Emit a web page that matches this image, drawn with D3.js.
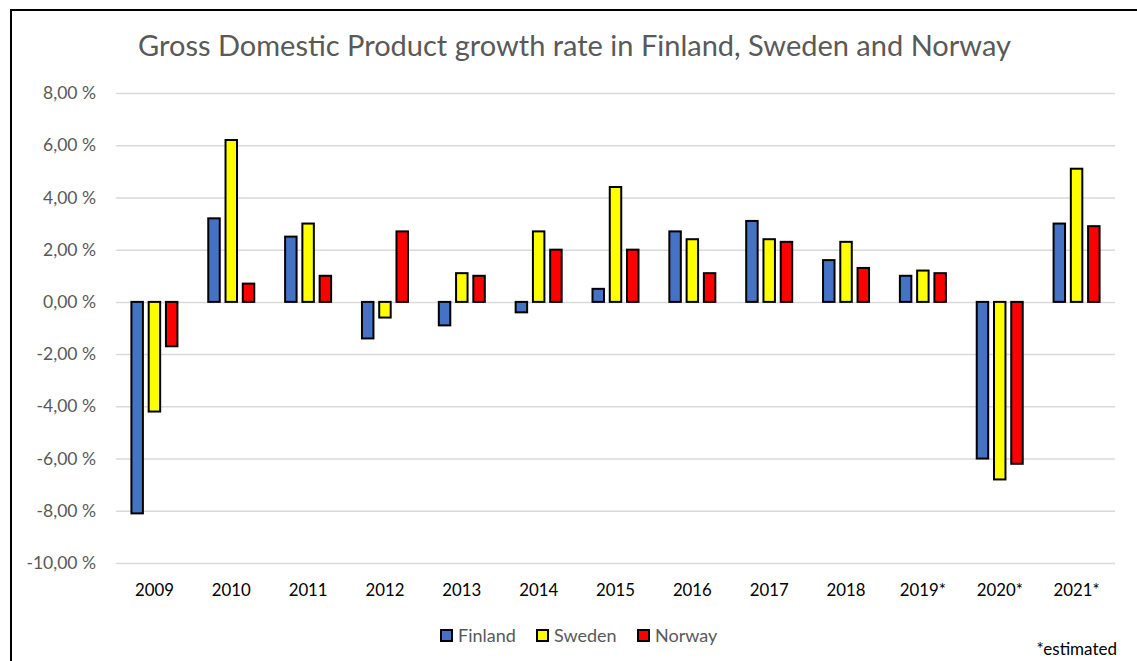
<!DOCTYPE html>
<html>
<head>
<meta charset="utf-8">
<script src="https://cdn.jsdelivr.net/npm/d3@7"></script>
<style>
  html, body { margin: 0; padding: 0; background: #fff; }
  svg { display: block; font-family: Lato, "Open Sans", sans-serif; }
</style>
</head>
<body>
<svg id="chart" width="1137" height="661"></svg>
<script>
// GDP growth (%) per year for the three Nordic countries
const years = ["2009", "2010", "2011", "2012", "2013", "2014", "2015", "2016", "2017", "2018", "2019*", "2020*", "2021*"];
const countries = ["Finland", "Sweden", "Norway"];
const finland = [-8.1, 3.2, 2.5, -1.4, -0.9, -0.4, 0.5, 2.7, 3.1, 1.6, 1.0, -6.0, 3.0];
const sweden  = [-4.2, 6.2, 3.0, -0.6, 1.1, 2.7, 4.4, 2.4, 2.4, 2.3, 1.2, -6.8, 5.1];
const norway  = [-1.7, 0.7, 1.0, 2.7, 1.0, 2.0, 2.0, 1.1, 2.3, 1.3, 1.1, -6.2, 2.9];
const yTicks = [-10, -8, -6, -4, -2, 0, 2, 4, 6, 8];
const colors = ["#4472C4", "#FFFF00", "#FF0000"];
const seriesValues = [finland, sweden, norway];

const svg = d3.select("#chart");

// outer frame of the chart area
svg.append("path")
  .attr("d", "M11,700 L11,10 L1140,10")
  .attr("fill", "none")
  .attr("stroke", "#000")
  .attr("stroke-width", 2);

const plot = { left: 116, right: 1115, top: 93, bottom: 563 };

const x0 = d3.scaleBand().domain(years).range([plot.left, plot.right]).padding(0);
const bw = x0.bandwidth();
const x1 = d3.scaleBand().domain(countries)
  .range([bw / 2 - 23, bw / 2 + 23])
  .paddingInner(0.335).paddingOuter(0);
const y = d3.scaleLinear().domain([-10, 8]).range([plot.bottom, plot.top]);

// title
svg.append("text")
  .attr("x", 574.5).attr("y", 56)
  .attr("text-anchor", "middle")
  .attr("font-size", 29)
  .attr("fill", "#595959")
  .text("Gross Domestic Product growth rate in Finland, Sweden and Norway");

// horizontal gridlines and value labels
const fmt = v => v.toFixed(2).replace(".", ",") + " %";
const yAxis = d3.axisLeft(y).tickValues(yTicks).tickSize(-(plot.right - plot.left)).tickPadding(20).tickFormat(fmt);
const gy = svg.append("g").attr("transform", `translate(${plot.left},0)`).call(yAxis);
gy.select(".domain").remove();
gy.selectAll(".tick line").attr("stroke", "#d9d9d9").attr("stroke-width", 1.5);
gy.selectAll(".tick text").attr("fill", "#595959").attr("font-size", 17.5).attr("font-family", "Lato, sans-serif");

// category labels
const xAxis = d3.axisBottom(x0).tickSize(0).tickPadding(0);
const gx = svg.append("g").attr("transform", `translate(0,${plot.bottom + 21})`).call(xAxis);
gx.select(".domain").remove();
gx.selectAll(".tick text").attr("fill", "#000").attr("font-size", 16.8).attr("font-family", "Lato, sans-serif");

// bars
const rows = years.map((yr, i) => ({ year: yr, vals: countries.map((c, k) => ({ country: c, k, v: seriesValues[k][i] })) }));
const groups = svg.append("g").selectAll("g").data(rows).join("g")
  .attr("transform", d => `translate(${x0(d.year)},0)`);
groups.selectAll("rect").data(d => d.vals).join("rect")
  .attr("x", d => x1(d.country))
  .attr("width", x1.bandwidth())
  .attr("y", d => y(Math.max(0, d.v)))
  .attr("height", d => Math.abs(y(d.v) - y(0)))
  .attr("fill", d => colors[d.k])
  .attr("stroke", "#000")
  .attr("stroke-width", 2);

// legend
const legendX = [441, 537, 638];
const lg = svg.append("g").selectAll("g").data(countries).join("g")
  .attr("transform", (d, i) => `translate(${legendX[i]},630)`);
lg.append("rect").attr("width", 11).attr("height", 11)
  .attr("fill", (d, i) => colors[i]).attr("stroke", "#000").attr("stroke-width", 2);
lg.append("text").attr("x", 17).attr("y", 12)
  .attr("font-size", 18).attr("fill", "#595959").text(d => d);

// footnote
svg.append("text")
  .attr("x", 1117).attr("y", 655)
  .attr("text-anchor", "end")
  .attr("font-size", 17)
  .attr("fill", "#000")
  .text("*estimated");
</script>
</body>
</html>
